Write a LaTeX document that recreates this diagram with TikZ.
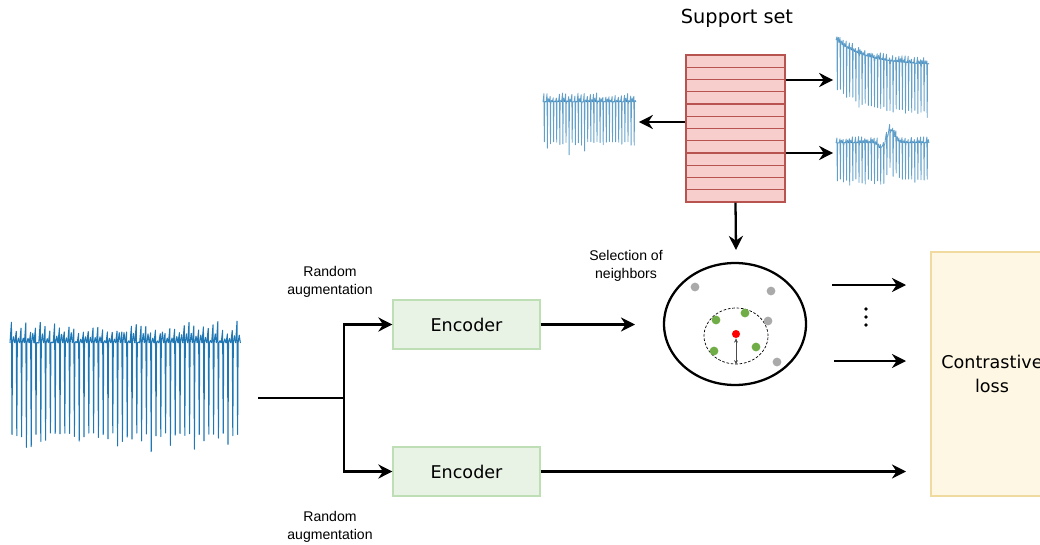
\documentclass[tikz,border=0pt]{standalone}
\usepackage{fontspec}
\setmainfont{DejaVu Sans}
\newfontfamily\arialf{Liberation Sans}
\usetikzlibrary{arrows.meta,shapes.geometric}
\definecolor{sigblue}{HTML}{1F77B4}
\definecolor{encfill}{RGB}{232,243,229}
\definecolor{encdraw}{RGB}{190,222,182}
\definecolor{supfill}{HTML}{F8CECC}
\definecolor{supdraw}{HTML}{B85450}
\definecolor{lossfill}{RGB}{254,247,227}
\definecolor{lossdraw}{RGB}{240,218,160}
\definecolor{dotgreen}{RGB}{112,173,71}
\definecolor{dotgray}{RGB}{170,170,170}
\newcommand{\ecgsig}[8]{%
 \foreach \i in {0,...,#3}{%
  \pgfmathsetmacro{\sigt}{\i/#3}%
  \pgfmathsetmacro{\yb}{#4}%
  \pgfmathsetmacro{\sigt}{(\i+1)/#3}%
  \pgfmathsetmacro{\ybn}{#4}%
  \pgfmathsetmacro{\xa}{#1+\i*#2}%
  \pgfmathsetmacro{\xb}{\xa+0.3*#2}%
  \pgfmathsetmacro{\xc}{\xa+0.42*#2}%
  \pgfmathsetmacro{\xd}{\xa+0.52*#2}%
  \pgfmathsetmacro{\xe}{\xa+0.75*#2}%
  \pgfmathsetmacro{\xf}{\xa+#2}%
  \pgfmathsetmacro{\ya}{\yb-#7*(0.4+0.6*rnd)}%
  \pgfmathsetmacro{\yd}{\yb+#6*(0.9+0.4*rnd*rnd*rnd)}%
  \pgfmathsetmacro{\ye}{\yb-#7*0.5*rnd}%
  \draw[#8] (\xa,\yb) -- (\xb,\ya) -- (\xc,\yd) -- (\xd,\yb) -- (\xe,\ye) -- (\xf,\ybn);
 }}
\tikzset{
  sigline/.style={draw=sigblue, line width=0.6pt, line join=round},
  thumbline/.style={draw=sigblue, opacity=0.7, line width=0.5pt, line join=round},
  sigbox/.style={draw=none, inner sep=0pt},
  arr/.style={line width=1.3pt, -{Stealth[length=8pt,width=8pt,inset=2.6pt]}},
  plain/.style={line width=1.3pt},
  encbox/.style={draw=encdraw, fill=encfill, line width=0.7pt, minimum width=2.94cm, minimum height=0.98cm, inner sep=0pt, font=\fontsize{10}{12}\selectfont},
  supbox/.style={draw=supdraw, fill=supfill, line width=0.7pt, minimum width=1.98cm, minimum height=2.94cm, inner sep=0pt},
  lossbox/.style={draw=lossdraw, fill=lossfill, line width=0.7pt, minimum width=2.44cm, minimum height=4.88cm, inner sep=0pt, align=center, font=\fontsize{10}{13.6}\selectfont},
  lbl/.style={align=center, inner sep=0pt, font=\arialf\fontsize{8}{10.6}\selectfont},
  gdot/.style={circle, fill=dotgreen, inner sep=0pt, minimum width=5pt, minimum height=5pt},
  grdot/.style={circle, fill=dotgray, inner sep=0pt, minimum width=5pt, minimum height=5pt},
  rdot/.style={circle, fill=red, inner sep=0pt, minimum width=4.6pt, minimum height=4.6pt},
}
\begin{document}
\begin{tikzpicture}[x=0.02cm, y=-0.02cm]
\useasboundingbox (0,0) rectangle (1040,544);
\clip (0,0) rectangle (1040,544);
\pgfmathsetseed{7}

% title
\node[inner sep=0pt, font=\fontsize{11}{13}\selectfont] (title) at (737,18) {Support set};

% support set table
\node[supbox] (sup) at (735.5,128.5) {};
\foreach \k in {1,...,11}{
  \draw[draw=supdraw, line width=0.7pt] (686,{55+\k*12.25}) -- (785,{55+\k*12.25});
}

% thumbnails
\node[sigbox, minimum width=1.9cm, minimum height=1.3cm] (thL) at (591,122) {};
\ecgsig{543}{3.1}{29}{102}{0}{44}{9}{thumbline}
\node[sigbox, minimum width=1.9cm, minimum height=1.7cm] (thA) at (881,75) {};
\ecgsig{836}{3.1}{29}{40+24*(1-exp(-3*\sigt))/(1-exp(-3))}{0}{52}{7}{thumbline}
\node[sigbox, minimum width=1.9cm, minimum height=1.2cm] (thB) at (881,156) {};
\ecgsig{836}{3.1}{29}{143-13*exp(-((\sigt-0.6)*(\sigt-0.6))/0.004)+6*exp(-((\sigt-0.5)*(\sigt-0.5))/0.002)}{0}{40}{7}{thumbline}

\coordinate (tA) at (833,80);
\coordinate (tB) at (833,153);
\draw[arr] (sup.east |- tA) -- (thA.west |- tA);
\draw[arr] (sup.east |- tB) -- (thB.west |- tB);
\draw[arr] (sup.west |- thL.east) -- (thL.east);

% embedding space
\node[ellipse, draw, line width=1.3pt, minimum width=2.84cm, minimum height=2.44cm, inner sep=0pt] (emb) at (735,324) {};
\coordinate (supin) at (736,250);
\draw[arr] (sup.south) -- (supin);
\node[ellipse, draw, line width=0.4pt, dash pattern=on 1.5pt off 1pt, minimum width=1.28cm, minimum height=1.12cm, inner sep=0pt] (nb) at (736,336) {};
\node[grdot] (q1) at (695,287) {};
\node[grdot] (q2) at (771,291) {};
\node[grdot] (q3) at (768,321) {};
\node[grdot] (q4) at (777,362) {};
\node[gdot] (g1) at (716,320) {};
\node[gdot] (g2) at (745,313) {};
\node[gdot] (g3) at (714,351) {};
\node[gdot] (g4) at (756,347) {};
\node[rdot] (anc) at (736,334) {};
\draw[line width=0.3pt, draw=black!70, {Stealth[length=2.4pt,width=2.2pt]}-{Stealth[length=2.4pt,width=2.2pt]}] (anc.south) -- (nb.south);

\node[lbl] (sel) at (626,266) {Selection of\\neighbors};

% input signal
\node[sigbox, minimum width=4.96cm, minimum height=3.5cm] (sigin) at (134,398) {};
\ecgsig{10}{4.8}{47}{343}{0}{100}{22}{sigline}

\coordinate (split) at (344,398);
\draw[plain] (sigin.east) -- (split);

% encoders
\node[encbox] (enc1) at (466.5,324.5) {Encoder};
\node[encbox] (enc2) at (466.5,471.5) {Encoder};
\draw[arr] (split) |- (enc1.west);
\draw[arr] (split) |- (enc2.west);
\node[lbl] (aug1) at (330,282) {Random\\augmentation};
\node[lbl] (aug2) at (330,527) {Random\\augmentation};

\coordinate (embin) at (635,324.5);
\draw[arr] (enc1.east) -- (embin);

% loss
\node[lossbox] (loss) at (992,374) {Contrastive\\loss};
\coordinate (l1) at (906,285);
\coordinate (l1s) at (832,285);
\coordinate (l2) at (906,361);
\coordinate (l2s) at (834,361);
\draw[arr] (l1s) -- (l1);
\draw[arr] (l2s) -- (l2);
\coordinate (l3) at (906,471.5);
\draw[arr] (enc2.east) -- (l3);
\foreach \yy in {309,317,325}{
  \fill (866,\yy) circle (1.1pt);
}
\end{tikzpicture}
\end{document}
